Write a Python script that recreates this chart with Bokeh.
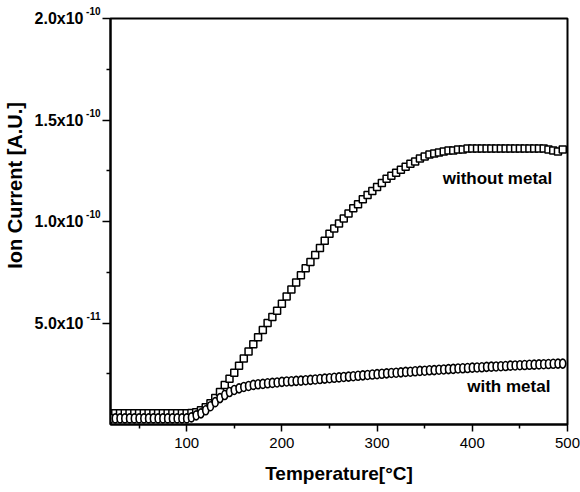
from bokeh.plotting import figure
from bokeh.models import Range1d, FixedTicker, Label, LinearAxis
from bokeh.embed import file_html
from bokeh.resources import INLINE

# ---- data (ion current in units of 1e-10 A.U.) ----
temperature = list(range(20, 500, 5))

without_metal = (
    [0.055] * 16 +
    [0.055, 0.057, 0.06, 0.07, 0.085, 0.105, 0.13, 0.16, 0.195, 0.225,
     0.255, 0.29, 0.325, 0.36, 0.395, 0.43, 0.465, 0.50, 0.53, 0.56] +
    [0.595, 0.63, 0.665, 0.70, 0.735, 0.77, 0.80, 0.835, 0.87, 0.905] +
    [0.94, 0.965, 0.99, 1.015, 1.04, 1.065, 1.085, 1.11, 1.13, 1.15] +
    [1.17, 1.19, 1.21, 1.225, 1.24, 1.255, 1.27, 1.285, 1.295, 1.31] +
    [1.32, 1.33, 1.335, 1.34, 1.345, 1.35, 1.35, 1.355, 1.355, 1.36] +
    [1.36, 1.36, 1.36, 1.36, 1.36, 1.36, 1.36, 1.36, 1.36, 1.36] +
    [1.36, 1.36, 1.36, 1.36, 1.36, 1.36, 1.355, 1.35, 1.345, 1.355]
)

with_metal = (
    [0.03] * 17 +
    [0.035, 0.045, 0.055, 0.07, 0.09, 0.11, 0.13, 0.145, 0.16, 0.17,
     0.178, 0.185, 0.19, 0.195, 0.198, 0.20, 0.203, 0.205, 0.207] +
    [0.21, 0.212, 0.213, 0.215, 0.216, 0.218, 0.22, 0.222, 0.224, 0.226] +
    [0.228, 0.23, 0.232, 0.234, 0.236, 0.238, 0.24, 0.242, 0.244, 0.246] +
    [0.248, 0.25, 0.252, 0.254, 0.255, 0.257, 0.259, 0.26, 0.262, 0.264] +
    [0.265, 0.267, 0.268, 0.27, 0.271, 0.273, 0.274, 0.276, 0.277, 0.278] +
    [0.28, 0.281, 0.282, 0.284, 0.285, 0.286, 0.287, 0.288, 0.29, 0.291] +
    [0.292, 0.293, 0.294, 0.295, 0.296, 0.297, 0.298, 0.299, 0.30, 0.30]
)

x_ticks = [100, 200, 300, 400, 500]
x_minor = [50, 150, 250, 350, 450]
y_ticks = [0.5, 1.0, 1.5, 2.0]
y_minor = [0.25, 0.75, 1.25, 1.75]
y_tick_mantissa = ["5.0x10", "1.0x10", "1.5x10", "2.0x10"]
y_tick_exponent = ["-11", "-10", "-10", "-10"]

FONT = "Liberation Sans"

p = figure(width=580, height=492, output_backend="svg", toolbar_location=None,
           x_range=Range1d(20, 500), y_range=Range1d(0.0, 2.0),
           min_border_left=108, min_border_right=13,
           min_border_top=18, min_border_bottom=68)
p.xgrid.visible = False
p.ygrid.visible = False
p.outline_line_color = "black"
p.outline_line_width = 2

# bottom axis
xa = p.xaxis[0]
xa.ticker = FixedTicker(ticks=x_ticks, minor_ticks=x_minor)
xa.axis_line_width = 2
xa.major_tick_line_width = 1.5
xa.minor_tick_line_width = 1.5
xa.major_tick_out = 7
xa.major_tick_in = 0
xa.minor_tick_out = 4
xa.minor_tick_in = 0
xa.major_label_standoff = 6
xa.major_label_text_font = FONT
xa.major_label_text_font_size = "15px"
xa.major_label_text_color = "black"
xa.axis_label = "Temperature[\u00b0C]"
xa.axis_label_standoff = 12
xa.axis_label_text_font = FONT
xa.axis_label_text_font_style = "bold"
xa.axis_label_text_font_size = "19px"
xa.axis_label_text_color = "black"

# inner left axis: ticks + exponents (raised with an empty second line)
ya = p.yaxis[0]
ya.ticker = FixedTicker(ticks=y_ticks, minor_ticks=y_minor)
ya.major_label_overrides = {t: s + "\n\u00a0" for t, s in zip(y_ticks, y_tick_exponent)}
ya.major_label_standoff = 2
ya.major_label_text_font = FONT
ya.major_label_text_font_style = "bold"
ya.major_label_text_font_size = "10px"
ya.major_label_text_color = "black"
ya.axis_line_width = 2
ya.major_tick_line_width = 1.5
ya.minor_tick_line_width = 1.5
ya.major_tick_out = 8
ya.major_tick_in = 0
ya.minor_tick_out = 4
ya.minor_tick_in = 0

# outer left axis: mantissas + title
ya2 = LinearAxis(ticker=FixedTicker(ticks=y_ticks, minor_ticks=[]))
ya2.major_label_overrides = {t: s for t, s in zip(y_ticks, y_tick_mantissa)}
ya2.axis_line_color = None
ya2.major_tick_line_color = None
ya2.minor_tick_line_color = None
ya2.major_tick_out = 0
ya2.major_tick_in = 0
ya2.minor_tick_out = 0
ya2.minor_tick_in = 0
ya2.major_label_standoff = 0
ya2.major_label_text_font = FONT
ya2.major_label_text_font_style = "bold"
ya2.major_label_text_font_size = "16px"
ya2.major_label_text_color = "black"
ya2.axis_label = "\u00a0" * 13 + "Ion Current [A.U.]"
ya2.axis_label_standoff = 6
ya2.axis_label_text_font = FONT
ya2.axis_label_text_font_style = "bold"
ya2.axis_label_text_font_size = "20px"
ya2.axis_label_text_color = "black"
p.add_layout(ya2, "left")

# data
p.scatter(temperature, without_metal, marker="square", size=7,
          fill_color="white", line_color="black", line_width=1.5)
p.ellipse(temperature, with_metal, width=6, height=9,
          width_units="screen", height_units="screen",
          fill_color="white", line_color="black", line_width=1.6)

p.add_layout(Label(x=484, y=1.212, text="without metal",
                   text_align="right", text_baseline="middle",
                   text_font=FONT, text_font_style="bold",
                   text_font_size="17px", text_color="black"))
p.add_layout(Label(x=482, y=0.187, text="with metal",
                   text_align="right", text_baseline="middle",
                   text_font=FONT, text_font_style="bold",
                   text_font_size="17px", text_color="black"))

open("out.html", "w").write(file_html(p, INLINE))
